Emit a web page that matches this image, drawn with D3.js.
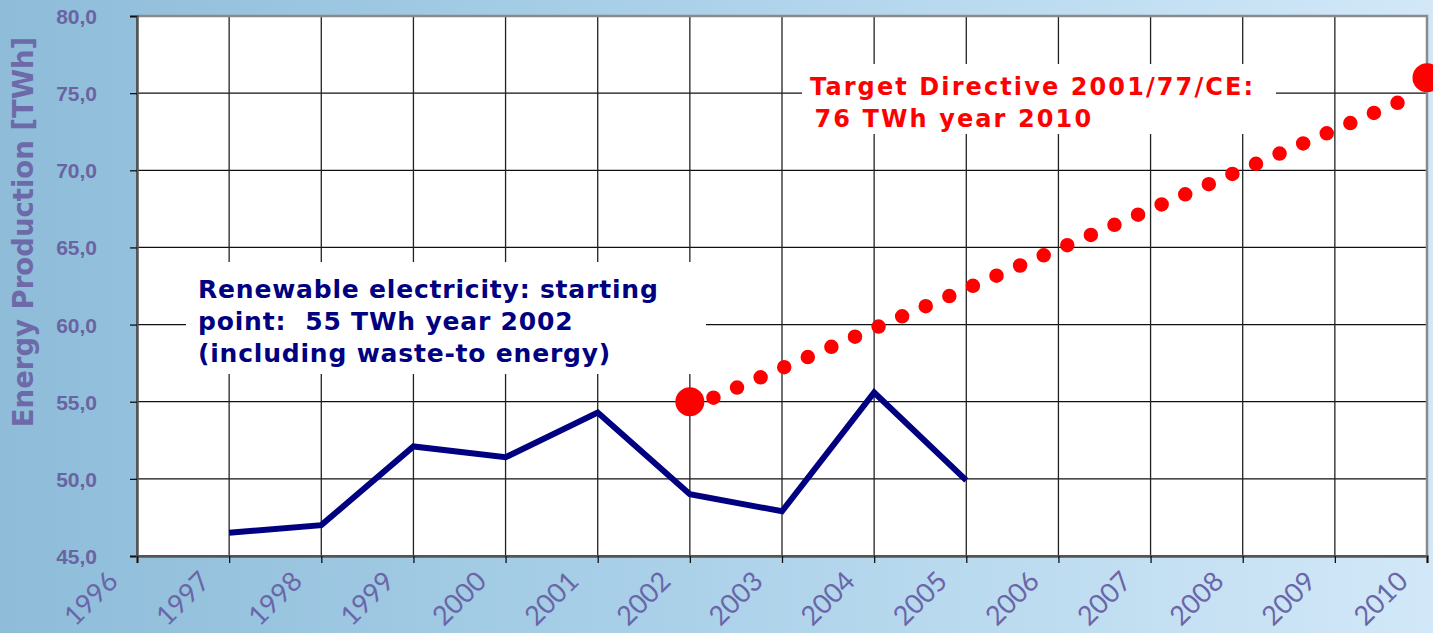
<!DOCTYPE html>
<html>
<head>
<meta charset="utf-8">
<script src="https://cdn.jsdelivr.net/npm/d3@7"></script>
<style>
  html, body { margin: 0; padding: 0; overflow: hidden; }
  svg { display: block; }
</style>
</head>
<body>
<script>
// ---- data ----
const years = [1997, 1998, 1999, 2000, 2001, 2002, 2003, 2004, 2005];
const production = [46.5, 47.0, 52.1, 51.4, 54.3, 49.0, 47.9, 55.6, 49.9];
// dotted target trajectory
const trendYears = [2002, 2010];
const trendValues = [54.6, 75.2];
// large end markers
const targetYears = [2002, 2010];
const targetValues = [55, 76];
const xTicks = [1996, 1997, 1998, 1999, 2000, 2001, 2002, 2003, 2004, 2005, 2006, 2007, 2008, 2009, 2010];
const yTicks = [45, 50, 55, 60, 65, 70, 75, 80];
const yTitle = "Energy Production [TWh]";
const blueNote = ["Renewable electricity: starting", "point:  55 TWh year 2002", "(including waste-to energy)"];
const redNote = ["Target Directive 2001/77/CE:", " 76 TWh year 2010"];

const W = 1433, H = 633;
const m = { left: 137, right: 6, top: 16, bottom: 77 };

const svg = d3.select("body").append("svg").attr("width", W).attr("height", H);

// background gradient
const defs = svg.append("defs");
const grad = defs.append("linearGradient").attr("id", "bg").attr("x1", "0").attr("y1", "0").attr("x2", "1").attr("y2", "0");
grad.append("stop").attr("offset", "0").attr("stop-color", "#8ebcd9");
grad.append("stop").attr("offset", "0.45").attr("stop-color", "#a9d0e8");
grad.append("stop").attr("offset", "1").attr("stop-color", "#d2e8f8");
svg.append("rect").attr("width", W).attr("height", H).attr("fill", "url(#bg)");

const x = d3.scaleLinear().domain([1996, 2010]).range([m.left, W - m.right]);
const y = d3.scaleLinear().domain([45, 80]).range([H - m.bottom, m.top]);

const x0 = x.range()[0], x1 = x.range()[1], y0 = y.range()[0], y1 = y.range()[1];

// plot area
svg.append("rect").attr("x", x0).attr("y", y1).attr("width", x1 - x0).attr("height", y0 - y1)
  .attr("fill", "#ffffff");

// grid
const grid = svg.append("g");
grid.selectAll("line.h").data(yTicks).join("line")
  .attr("x1", x0).attr("x2", x1).attr("y1", d => y(d)).attr("y2", d => y(d))
  .attr("stroke", "#111").attr("stroke-width", 1.3);
grid.selectAll("line.v").data(xTicks).join("line")
  .attr("y1", y1).attr("y2", y0).attr("x1", d => x(d)).attr("x2", d => x(d))
  .attr("stroke", "#222").attr("stroke-width", 1.3);

// border top/right
svg.append("path")
  .attr("d", `M${x0},${y1}H${x1}V${y0}`)
  .attr("fill", "none").attr("stroke", "#8a8a8a").attr("stroke-width", 2.5);

// axes
const yAxis = svg.append("g").attr("transform", `translate(${x0},0)`)
  .call(d3.axisLeft(y).tickValues(yTicks).tickSize(7).tickPadding(33)
    .tickFormat(d => d3.format(".1f")(d).replace(".", ",")));
yAxis.select(".domain").attr("stroke", "#555").attr("stroke-width", 2.5);
yAxis.selectAll(".tick line").attr("stroke", "#111").attr("stroke-width", 1.3);
yAxis.selectAll(".tick text")
  .attr("font-family", "'Liberation Sans', Arial, sans-serif")
  .attr("font-weight", "bold").attr("font-size", 21).attr("fill", "#6a64a2")
  .attr("dy", "0.36em");

const xAxis = svg.append("g").attr("transform", `translate(0,${y0})`)
  .call(d3.axisBottom(x).tickValues(xTicks).tickSize(7).tickFormat(d3.format("d")));
xAxis.select(".domain").attr("stroke", "#555").attr("stroke-width", 2.5);
xAxis.selectAll(".tick line").attr("stroke", "#111").attr("stroke-width", 1.3);
xAxis.selectAll(".tick text")
  .attr("font-family", "Lato, 'Open Sans', sans-serif")
  .attr("font-size", 27).attr("fill", "#6a66a8")
  .attr("text-anchor", "end")
  .attr("y", 0).attr("dy", 0)
  .attr("transform", "translate(-18,27) rotate(-45)");

// y title
svg.append("text")
  .attr("transform", `translate(33,232) rotate(-90)`)
  .attr("text-anchor", "middle")
  .attr("font-family", "'DejaVu Sans', Verdana, sans-serif")
  .attr("font-weight", "bold").attr("font-size", 27.5).attr("fill", "#6e69a8")
  .text(yTitle);

// blue note (white box)
const blueG = svg.append("g");
blueG.append("rect").attr("x", 186).attr("y", 262).attr("width", 520).attr("height", 112).attr("fill", "#fff");
blueG.append("text")
  .attr("font-family", "'DejaVu Sans', Verdana, sans-serif").attr("font-weight", "bold")
  .attr("font-size", 25).attr("fill", "#000080").attr("letter-spacing", 0.8)
  .style("white-space", "pre")
  .selectAll("tspan").data(blueNote).join("tspan")
  .attr("x", 198).attr("y", (d, i) => 298 + i * 32)
  .text(d => d);

// red note (white box)
const redG = svg.append("g");
redG.append("rect").attr("x", 802).attr("y", 64).attr("width", 474).attr("height", 70).attr("fill", "#fff");
redG.append("text")
  .attr("font-family", "'DejaVu Sans', Verdana, sans-serif").attr("font-weight", "bold")
  .attr("font-size", 24).attr("fill", "#ff0000").attr("letter-spacing", 2.1)
  .style("white-space", "pre")
  .selectAll("tspan").data(redNote).join("tspan")
  .attr("x", (d, i) => i === 0 ? 810 : 804).attr("y", (d, i) => 95 + i * 32)
  .text(d => d);

// blue production line
svg.append("path").datum(years.map((yr, i) => [yr, production[i]]))
  .attr("fill", "none").attr("stroke", "#000080").attr("stroke-width", 6)
  .attr("stroke-linejoin", "miter")
  .attr("d", d3.line().x(d => x(d[0])).y(d => y(d[1])));

// red target dotted line (round dots, 31 dots then a gap before the end marker)
const tPts = trendYears.map((yr, i) => [x(yr), y(trendValues[i])]);
const len = Math.hypot(tPts[1][0] - tPts[0][0], tPts[1][1] - tPts[0][1]);
const step = len / 31.25;
const dash = d3.range(30).map(() => `0 ${step}`).join(" ") + ` 0 ${len * 2}`;
svg.append("path").datum(tPts)
  .attr("fill", "none").attr("stroke", "#ff0000").attr("stroke-width", 14.5)
  .attr("stroke-linecap", "round")
  .attr("stroke-dasharray", dash)
  .attr("d", d3.line());
svg.selectAll("circle.end").data(targetYears.map((yr, i) => [yr, targetValues[i]])).join("circle")
  .attr("cx", d => x(d[0])).attr("cy", d => y(d[1])).attr("r", 14.5).attr("fill", "#ff0000");
</script>
</body>
</html>
